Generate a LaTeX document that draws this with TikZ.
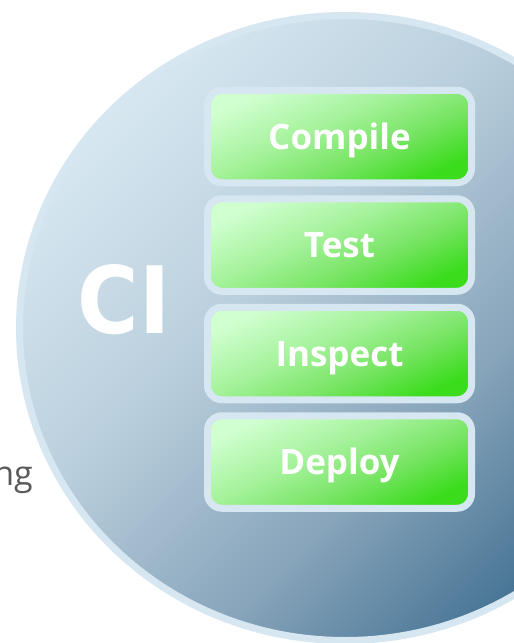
\documentclass[tikz,border=0pt]{standalone}
\usepackage{fontspec}
\setmainfont{Open Sans}
\newfontfamily\cifont[FakeStretch=0.9]{DejaVu Sans}
\definecolor{rimc}{RGB}{214,231,241}
\definecolor{cidark}{RGB}{68,114,147}
\definecolor{cimid}{RGB}{135,164,186}
\definecolor{cilighta}{RGB}{186,207,221}
\definecolor{cilight}{RGB}{214,231,240}
\definecolor{gdark}{RGB}{58,220,28}
\definecolor{gmida}{RGB}{118,228,98}
\definecolor{gmidb}{RGB}{165,242,155}
\definecolor{glight}{RGB}{208,255,208}
\definecolor{sidegray}{RGB}{89,89,89}
\pgfdeclareverticalshading{cishade}{100bp}{color(0bp)=(cidark); color(25bp)=(cidark); color(40bp)=(cimid); color(57.5bp)=(cilighta); color(75bp)=(cilight); color(100bp)=(cilight)}
\pgfdeclareverticalshading{greenshade}{100bp}{color(0bp)=(gdark); color(25bp)=(gdark); color(40bp)=(gmida); color(56bp)=(gmidb); color(75bp)=(glight); color(100bp)=(glight)}
\tikzset{
  stepbox/.style={shading=greenshade, shading angle=25, draw=rimc, line width=7pt,
    rounded corners=14.5pt, minimum width=264pt, minimum height=92.5pt, inner sep=0pt,
    text=white, font=\fontsize{35}{35}\selectfont\bfseries, text height=25pt, text depth=0pt},
}
\begin{document}
\begin{tikzpicture}[x=1pt,y=-1pt]
\useasboundingbox (0,0) rectangle (514,643);
\clip (0,0) rectangle (514,643);
\path[shading=cishade, shading angle=45, draw=rimc, line width=7pt] (345,328) ellipse [x radius=325.5, y radius=312.5];
\node[stepbox] (compile) at (339.5,136.5) {Compile};
\node[stepbox] (test) at (339.5,245) {Test};
\node[stepbox] (inspect) at (339.5,353.5) {Inspect};
\node[stepbox] (deploy) at (339.5,462) {Deploy};
\node[text=white, font=\cifont\fontsize{93}{93}\selectfont\bfseries, inner sep=0pt, text height=68pt, text depth=0pt] (ci) at (124,299) {CI};
\node[text=sidegray, font=\fontsize{34}{34}\selectfont, anchor=base east, inner sep=0pt] (side) at (33,485) {ng};
\end{tikzpicture}
\end{document}
